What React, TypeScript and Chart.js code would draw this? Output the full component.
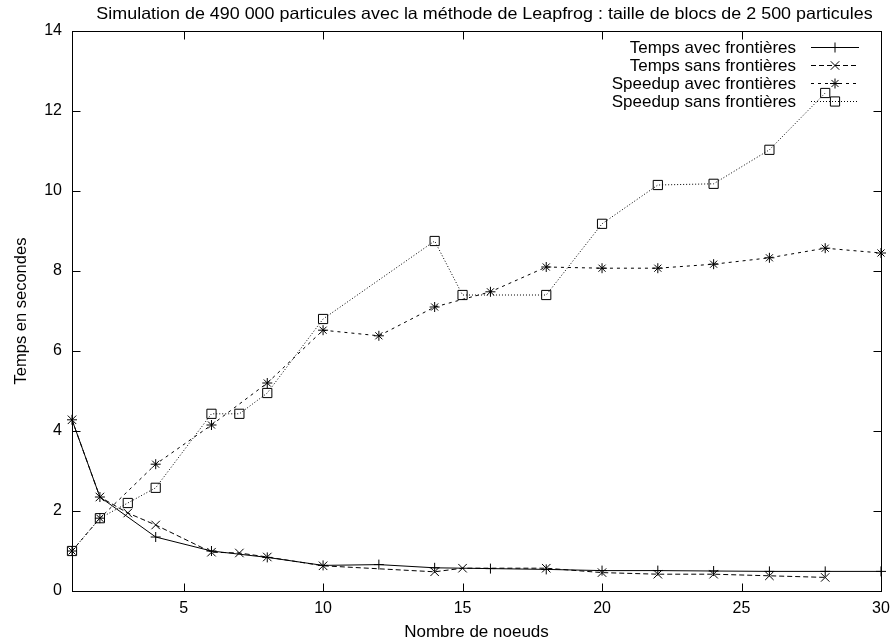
import React, { useEffect, useRef } from 'react';
import { Chart, registerables } from 'chart.js';

Chart.register(...registerables);

const FONT = "'Liberation Sans', Arial, Helvetica, sans-serif";

const TITLE = 'Simulation de 490 000 particules avec la méthode de Leapfrog : taille de blocs de 2 500 particules';
const X_TITLE = 'Nombre de noeuds';
const Y_TITLE = 'Temps en secondes';
const X_TICKS = [5, 10, 15, 20, 25, 30];
const Y_TICKS = [0, 2, 4, 6, 8, 10, 12, 14];

const SERIES_LABELS = [
  'Temps avec frontières',
  'Temps sans frontières',
  'Speedup avec frontières',
  'Speedup sans frontières',
];

const nodesAvec = [1, 2, 4, 6, 8, 10, 12, 14, 16, 18, 20, 22, 24, 26, 28, 30];
const tempsAvec = [4.28, 2.35, 1.35, 1.0, 0.84, 0.64, 0.66, 0.58, 0.56, 0.54, 0.51, 0.51, 0.5, 0.49, 0.49, 0.49];
const speedupAvec = [1, 1.82, 3.17, 4.15, 5.2, 6.52, 6.38, 7.1, 7.48, 8.1, 8.07, 8.07, 8.17, 8.33, 8.57, 8.45];

const nodesSans = [1, 2, 3, 4, 6, 7, 8, 10, 14, 15, 18, 20, 22, 24, 26, 28];
const tempsSans = [4.28, 2.35, 1.95, 1.65, 0.97, 0.95, 0.85, 0.63, 0.48, 0.57, 0.57, 0.46, 0.42, 0.42, 0.38, 0.34];
const speedupSans = [1, 1.82, 2.2, 2.58, 4.43, 4.43, 4.95, 6.8, 8.75, 7.4, 7.4, 9.18, 10.15, 10.18, 11.03, 12.45];

const pts = (xs: number[], ys: number[]) => xs.map((x, i) => ({ x, y: ys[i] }));

function drawMarker(ctx: CanvasRenderingContext2D, style: string, x: number, y: number, r: number) {
  ctx.beginPath();
  if (style === 'cross' || style === 'star') {
    ctx.moveTo(x, y - r);
    ctx.lineTo(x, y + r);
    ctx.moveTo(x - r, y);
    ctx.lineTo(x + r, y);
  }
  if (style === 'crossRot' || style === 'star') {
    const o = r * Math.SQRT1_2;
    ctx.moveTo(x - o, y - o);
    ctx.lineTo(x + o, y + o);
    ctx.moveTo(x - o, y + o);
    ctx.lineTo(x + o, y - o);
  }
  if (style === 'rect') {
    const s = r * Math.SQRT1_2;
    ctx.rect(x - s, y - s, 2 * s, 2 * s);
  }
  ctx.stroke();
}

const framePlugin = {
  id: 'gnuFrame',
  afterDraw(chart: any) {
    const { ctx, chartArea } = chart;
    const { left, right, top, bottom } = chartArea;
    const xs = chart.scales.x;
    const ys = chart.scales.y;
    ctx.save();
    ctx.strokeStyle = '#000';
    ctx.lineWidth = 1;
    ctx.setLineDash([]);
    const L = Math.round(left) + 0.5;
    const R = Math.round(right) + 0.5;
    const T = Math.round(top) + 0.5;
    const B = Math.round(bottom) + 0.5;
    ctx.strokeRect(L, T, R - L, B - T);
    ctx.beginPath();
    const tl = 8;
    Y_TICKS.forEach((v) => {
      const y = Math.round(ys.getPixelForValue(v)) + 0.5;
      ctx.moveTo(L, y);
      ctx.lineTo(L + tl, y);
      ctx.moveTo(R, y);
      ctx.lineTo(R - tl, y);
    });
    X_TICKS.forEach((v) => {
      const x = Math.round(xs.getPixelForValue(v)) + 0.5;
      ctx.moveTo(x, B);
      ctx.lineTo(x, B - tl);
      ctx.moveTo(x, T);
      ctx.lineTo(x, T + tl);
    });
    ctx.stroke();

    // title (slightly wide lettering, as in the gnuplot output)
    ctx.fillStyle = '#000';
    ctx.font = `16.5px ${FONT}`;
    ctx.textAlign = 'center';
    ctx.textBaseline = 'middle';
    ctx.save();
    ctx.translate((left + right) / 2 + 8, 14);
    ctx.scale(1.085, 1);
    ctx.fillText(TITLE, 0, 0);
    ctx.restore();

    // gnuplot-style key: right-aligned text, sample line on the right
    ctx.font = `17px ${FONT}`;
    ctx.textAlign = 'right';
    chart.data.datasets.forEach((d: any, i: number) => {
      const y = top + 16 + i * 18;
      const yl = Math.round(y) + 0.5;
      ctx.fillText(d.label, right - 85, y + 1);
      ctx.setLineDash(d.borderDash || []);
      ctx.beginPath();
      ctx.moveTo(right - 70, yl);
      ctx.lineTo(right - 22, yl);
      ctx.stroke();
      ctx.setLineDash([]);
      drawMarker(ctx, d.pointStyle, right - 46, yl, d.pointRadius);
    });
    ctx.restore();
  },
};

export default function App() {
  const ref = useRef<HTMLCanvasElement | null>(null);

  useEffect(() => {
    if (!ref.current) return;
    const common = {
      borderColor: '#000',
      pointBorderColor: '#000',
      pointBackgroundColor: 'rgba(0,0,0,0)',
      pointBorderWidth: 1,
      borderWidth: 1,
      fill: false,
      tension: 0,
      clip: false as const,
    };
    const chart = new Chart(ref.current, {
      type: 'line',
      data: {
        datasets: [
          { ...common, label: SERIES_LABELS[0], data: pts(nodesAvec, tempsAvec), pointStyle: 'cross', pointRadius: 5, borderDash: [] },
          { ...common, label: SERIES_LABELS[1], data: pts(nodesSans, tempsSans), pointStyle: 'crossRot', pointRadius: 6, borderDash: [5, 3] },
          { ...common, label: SERIES_LABELS[2], data: pts(nodesAvec, speedupAvec), pointStyle: 'star', pointRadius: 5, borderDash: [3, 4] },
          { ...common, label: SERIES_LABELS[3], data: pts(nodesSans, speedupSans), pointStyle: 'rect', pointRadius: 6.5, borderDash: [1, 2] },
        ] as any,
      },
      options: {
        animation: false,
        responsive: false,
        events: [],
        layout: { padding: { left: 0, right: 10, top: 31, bottom: 0 } },
        plugins: {
          legend: { display: false },
          title: { display: false },
          tooltip: { enabled: false },
        },
        scales: {
          x: {
            type: 'linear',
            min: 1,
            max: 30,
            afterBuildTicks: (s: any) => {
              s.ticks = X_TICKS.map((value) => ({ value }));
            },
            afterFit: (s: any) => {
              s.height = 53;
              s.paddingLeft = 0;
              s.paddingRight = 0;
            },
            grid: { display: false, drawTicks: false },
            border: { display: false },
            ticks: { color: '#000', font: { family: FONT, size: 16 }, padding: 8, maxRotation: 0 },
            title: { display: true, text: X_TITLE, color: '#000', font: { family: FONT, size: 17 }, padding: { top: 0, bottom: 1 } },
          },
          y: {
            type: 'linear',
            min: 0,
            max: 14,
            afterBuildTicks: (s: any) => {
              s.ticks = Y_TICKS.map((value) => ({ value }));
            },
            afterFit: (s: any) => {
              s.width = 72;
              s.paddingTop = 0;
              s.paddingBottom = 0;
            },
            grid: { display: false, drawTicks: false },
            border: { display: false },
            ticks: { color: '#000', font: { family: FONT, size: 16 }, padding: 10 },
            title: { display: true, text: Y_TITLE, color: '#000', font: { family: FONT, size: 16.5 }, padding: { top: 12, bottom: 0 } },
          },
        },
      },
      plugins: [framePlugin],
    } as any);
    return () => chart.destroy();
  }, []);

  return (
    <div style={{ position: 'fixed', left: 0, top: 0, width: 891, height: 644, background: '#fff' }}>
      <canvas ref={ref} width={891} height={644} style={{ display: 'block' }} />
    </div>
  );
}
